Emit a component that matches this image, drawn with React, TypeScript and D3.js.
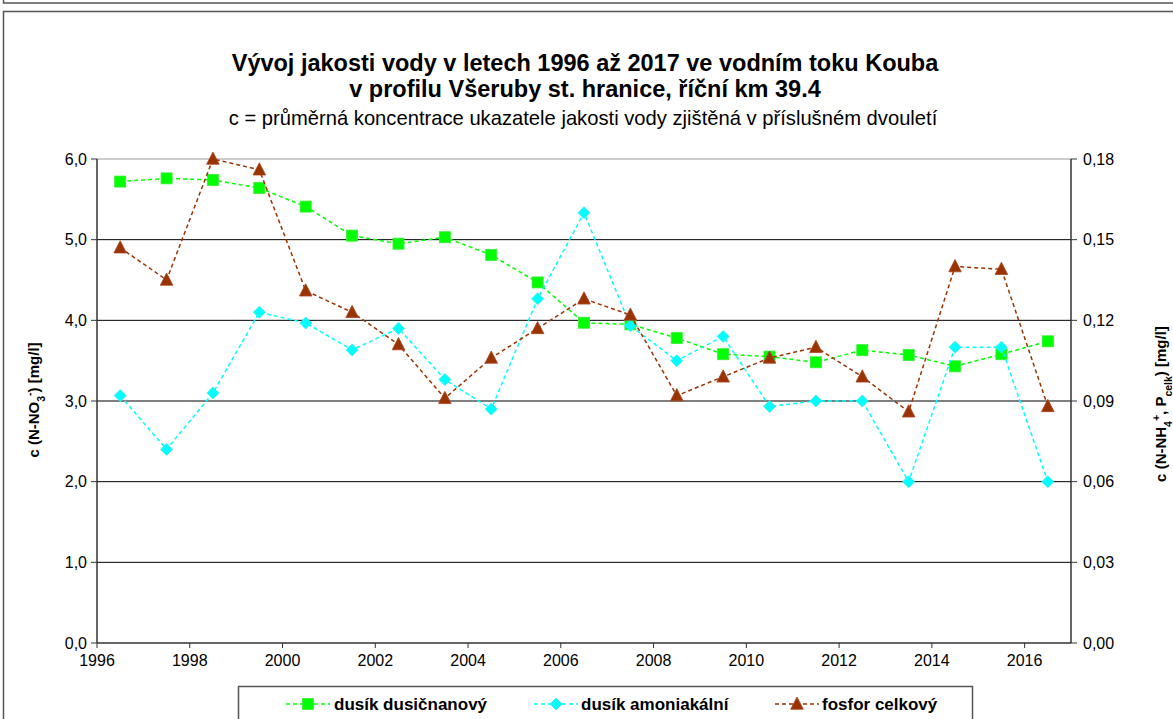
import React from "react";
import * as d3 from "d3";

const years = [1996.5, 1997.5, 1998.5, 1999.5, 2000.5, 2001.5, 2002.5, 2003.5, 2004.5, 2005.5, 2006.5, 2007.5, 2008.5, 2009.5, 2010.5, 2011.5, 2012.5, 2013.5, 2014.5, 2015.5, 2016.5];
const nitrate = [5.72, 5.76, 5.74, 5.64, 5.41, 5.05, 4.95, 5.03, 4.81, 4.47, 3.97, 3.95, 3.78, 3.58, 3.55, 3.48, 3.63, 3.57, 3.43, 3.58, 3.74];
const ammonium = [0.092, 0.072, 0.093, 0.123, 0.119, 0.109, 0.117, 0.098, 0.087, 0.128, 0.160, 0.118, 0.105, 0.114, 0.088, 0.090, 0.090, 0.060, 0.110, 0.110, 0.060];
const phosphorus = [0.147, 0.135, 0.180, 0.176, 0.131, 0.123, 0.111, 0.091, 0.106, 0.117, 0.128, 0.122, 0.092, 0.099, 0.106, 0.110, 0.099, 0.086, 0.140, 0.139, 0.088];
const xTicks = [1996, 1998, 2000, 2002, 2004, 2006, 2008, 2010, 2012, 2014, 2016];
const leftTicks = [0, 1, 2, 3, 4, 5, 6];
const rightTicks = [0, 0.03, 0.06, 0.09, 0.12, 0.15, 0.18];
const seriesNames = ["dusík dusičnanový", "dusík amoniakální", "fosfor celkový"];
const titleLines = [
  "Vývoj jakosti vody v letech 1996 až 2017 ve vodním toku Kouba",
  "v profilu Všeruby st. hranice, říční km 39.4",
];
const subtitle = "c = průměrná koncentrace ukazatele jakosti vody zjištěná v příslušném dvouletí";

const FONT = "'Liberation Sans', Arial, sans-serif";
const GREEN = "#00FF00";
const CYAN = "#00FFFF";
const BROWN = "#993300";

const fmt = (v: number, d: number) => v.toFixed(d).replace(".", ",");

function Marker({ kind, x, y }: { kind: string; x: number; y: number }) {
  if (kind === "square") {
    return <rect x={x - 5.5} y={y - 5.5} width={11} height={11} fill={GREEN} stroke="#33ee33" strokeWidth={0.8} />;
  }
  if (kind === "diamond") {
    const s = 6;
    return <path d={`M${x},${y - s}L${x + s},${y}L${x},${y + s}L${x - s},${y}Z`} fill={CYAN} stroke="#33eeee" strokeWidth={0.8} />;
  }
  const s = 7;
  return <path d={`M${x},${y - s}L${x + s * 0.9},${y + s * 0.75}L${x - s * 0.9},${y + s * 0.75}Z`} fill={BROWN} stroke="#aa4422" strokeWidth={0.8} />;
}

export default function App() {
  const W = 1173, H = 719;
  const x0 = 97, x1 = 1071, yTop = 159, yBot = 643;
  const x = d3.scaleLinear().domain([1996, 2017]).range([x0, x1]);
  const yL = d3.scaleLinear().domain([0, 6]).range([yBot, yTop]);
  const yR = d3.scaleLinear().domain([0, 0.18]).range([yBot, yTop]);

  const lineL = d3.line<number>().x((_, i) => x(years[i])).y((v) => yL(v));
  const lineR = d3.line<number>().x((_, i) => x(years[i])).y((v) => yR(v));

  const series = [
    { name: seriesNames[0], color: GREEN, kind: "square", vals: nitrate, scale: yL, gen: lineL },
    { name: seriesNames[1], color: CYAN, kind: "diamond", vals: ammonium, scale: yR, gen: lineR },
    { name: seriesNames[2], color: BROWN, kind: "triangle", vals: phosphorus, scale: yR, gen: lineR },
  ];

  const legendItems = [
    { lx: 286, tx: 334 },
    { lx: 534, tx: 581 },
    { lx: 775, tx: 822 },
  ];
  const legendY = 704;

  return (
    <svg width={W} height={H} style={{ position: "absolute", left: 0, top: 0, background: "#fff" }} fontFamily={FONT}>
      <rect x={0} y={0} width={W} height={H} fill="#fff" />
      {/* previous frame bottom */}
      <rect x={3.5} y={-50} width={1300} height={53} fill="none" stroke="#555" strokeWidth={1.5} />
      {/* chart frame */}
      <rect x={3.5} y={11.5} width={1300} height={900} fill="none" stroke="#555" strokeWidth={1.5} />

      {/* titles */}
      <text x={585} y={71} textAnchor="middle" fontSize={23.5} fontWeight="bold">{titleLines[0]}</text>
      <text x={585} y={97} textAnchor="middle" fontSize={23.5} fontWeight="bold">{titleLines[1]}</text>
      <text x={583} y={125} textAnchor="middle" fontSize={20.2}>{subtitle}</text>

      {/* gridlines */}
      {leftTicks.filter((t) => t > 0).map((t) => (
        <line key={t} x1={x0} x2={x1} y1={yL(t)} y2={yL(t)} stroke={t === 6 ? "#999" : "#000"} strokeWidth={1} />
      ))}

      {/* left axis */}
      <line x1={x0} x2={x0} y1={yTop} y2={yBot} stroke="#333" strokeWidth={1.5} />
      {leftTicks.map((t) => (
        <g key={t}>
          <line x1={x0 - 6} x2={x0} y1={yL(t)} y2={yL(t)} stroke="#333" strokeWidth={1} />
          <text x={87} y={yL(t)} dy="0.35em" textAnchor="end" fontSize={16}>{fmt(t, 1)}</text>
        </g>
      ))}
      {/* right axis */}
      <line x1={x1} x2={x1} y1={yTop} y2={yBot} stroke="#333" strokeWidth={1.5} />
      {rightTicks.map((t) => (
        <g key={t}>
          <line x1={x1} x2={x1 + 6} y1={yR(t)} y2={yR(t)} stroke="#333" strokeWidth={1} />
          <text x={1083} y={yR(t)} dy="0.35em" textAnchor="start" fontSize={16}>{fmt(t, 2)}</text>
        </g>
      ))}
      {/* bottom axis */}
      <line x1={x0} x2={x1} y1={yBot} y2={yBot} stroke="#333" strokeWidth={1.5} />
      {xTicks.map((t) => (
        <g key={t}>
          <line x1={x(t)} x2={x(t)} y1={yBot} y2={yBot + 5} stroke="#333" strokeWidth={1} />
          <text x={x(t)} y={666} textAnchor="middle" fontSize={16}>{t}</text>
        </g>
      ))}

      {/* axis titles */}
      <text transform={`translate(39,400) rotate(-90)`} textAnchor="middle" fontSize={15} fontWeight="bold">
        c (N-NO<tspan baselineShift="sub" fontSize={10.5}>3</tspan><tspan baselineShift="super" fontSize={10.5}>-</tspan>) [mg/l]
      </text>
      <text transform={`translate(1166,404) rotate(-90)`} textAnchor="middle" fontSize={15} fontWeight="bold">
        c (N-NH<tspan baselineShift="sub" fontSize={10.5}>4</tspan><tspan baselineShift="super" fontSize={10.5}>+</tspan>, P<tspan baselineShift="sub" fontSize={10.5}>celk</tspan>) [mg/l]
      </text>

      {/* series */}
      {series.map((s) => (
        <g key={s.name}>
          <path d={s.gen(s.vals) || ""} fill="none" stroke={s.color} strokeWidth={1.5} strokeDasharray="4,3" />
          {s.vals.map((v, i) => (
            <Marker key={i} kind={s.kind} x={x(years[i])} y={s.scale(v)} />
          ))}
        </g>
      ))}

      {/* legend */}
      <rect x={238.5} y={686.5} width={734} height={100} fill="#fff" stroke="#555" strokeWidth={1.5} />
      {series.map((s, i) => (
        <g key={s.name}>
          <line x1={legendItems[i].lx} x2={legendItems[i].lx + 44} y1={legendY} y2={legendY} stroke={s.color} strokeWidth={1.5} strokeDasharray="4,3" />
          <Marker kind={s.kind} x={legendItems[i].lx + 22} y={legendY} />
          <text x={legendItems[i].tx} y={legendY} dy="0.35em" fontSize={17} fontWeight="bold">{s.name}</text>
        </g>
      ))}
    </svg>
  );
}
